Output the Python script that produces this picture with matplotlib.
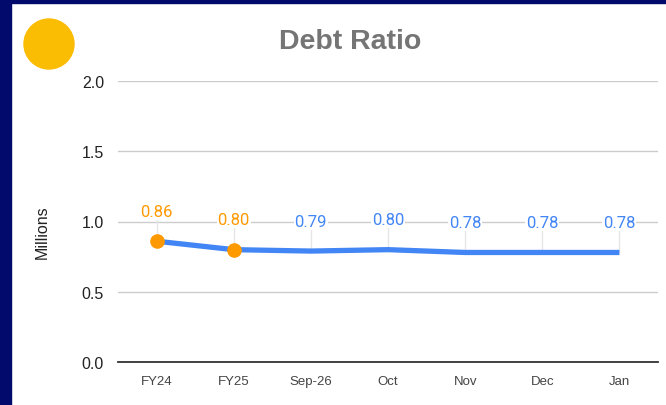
import matplotlib
matplotlib.use("Agg")
import matplotlib.pyplot as plt
from matplotlib import font_manager
from matplotlib.patches import Rectangle, Ellipse

# data
categorias = ["FY24", "FY25", "Sep-26", "Oct", "Nov", "Dec", "Jan"]
valores = [0.86, 0.80, 0.79, 0.80, 0.78, 0.78, 0.78]
etiquetas = ["0.86", "0.80", "0.79", "0.80", "0.78", "0.78", "0.78"]
marcados = [True, True, False, False, False, False, False]
ticks_y = [0.0, 0.5, 1.0, 1.5, 2.0]

azul = "#4285F4"
naranja = "#FF9900"
navy = "#020b6b"

nombres = set(f.name for f in font_manager.fontManager.ttflist)
fuente_x = "Liberation Sans Narrow" if "Liberation Sans Narrow" in nombres else "Liberation Sans"

plt.rcParams["font.family"] = ["Liberation Sans", "DejaVu Sans"]

fig = plt.figure(figsize=(6.66, 4.06), dpi=100)
fig.patch.set_facecolor("white")

# marco azul marino a la izquierda y arriba
fig.patches.append(Rectangle((0, 0), 11 / 666, 1, transform=fig.transFigure,
                             color=navy, zorder=0))
fig.patches.append(Rectangle((0, 1 - 4 / 406), 1, 4 / 406, transform=fig.transFigure,
                             color=navy, zorder=0))
# circulo amarillo
fig.patches.append(Ellipse((49 / 666, 1 - 45 / 406), 50 / 666, 50 / 406,
                           transform=fig.transFigure, color="#FBBC04", zorder=1))

ax = fig.add_axes([118 / 666, (406 - 363.3) / 406, 540 / 666, 281.6 / 406])
ax.set_facecolor("white")

x = list(range(len(categorias)))

ax.set_xlim(-0.5, len(categorias) - 0.5)
ax.set_ylim(0, 2.0)
ax.set_yticks(ticks_y)
ax.set_yticklabels(["%.1f" % t for t in ticks_y], fontsize=11.5, color="#222222")
ax.set_xticks(x)
ax.set_xticklabels(categorias, fontsize=9.5, color="#444444", family=fuente_x)
ax.tick_params(axis="both", length=0)
ax.tick_params(axis="y", pad=10)
ax.tick_params(axis="x", pad=9)

ax.grid(axis="y", color="#cccccc", linewidth=1)
ax.set_axisbelow(True)
for s in ["top", "right", "left"]:
    ax.spines[s].set_visible(False)
ax.spines["bottom"].set_color("#333333")
ax.spines["bottom"].set_linewidth(1.3)

# lineas guia de etiqueta a punto
for xi, v in zip(x, valores):
    ax.plot([xi, xi], [v, v + 0.16], color="#e6e6e6", linewidth=1, zorder=1)

ax.plot(x, valores, color=azul, linewidth=3.8, solid_capstyle="butt", zorder=3)
mx = [xi for xi, m in zip(x, marcados) if m]
my = [v for v, m in zip(valores, marcados) if m]
ax.plot(mx, my, "o", color=naranja, markersize=9.5, zorder=4)

for xi, v, t, m in zip(x, valores, etiquetas, marcados):
    ax.annotate(t, (xi, v), xytext=(0, 21.5), textcoords="offset points",
                ha="center", va="center", fontsize=12,
                color=naranja if m else azul, family=["Roboto", "DejaVu Sans"],
                bbox=dict(boxstyle="square,pad=0.05", fc="white", ec="none"),
                zorder=5)

ax.set_ylabel("Millions", fontsize=11.5, color="#222222")
ax.yaxis.set_label_coords(50 / 666, (406 - 232) / 406, transform=fig.transFigure)

fig.text(350 / 666, 1 - 42 / 406, "Debt Ratio", ha="center", va="center",
         fontsize=20.5, fontweight="bold", color="#757575")

fig.savefig("out.png", dpi=100)
